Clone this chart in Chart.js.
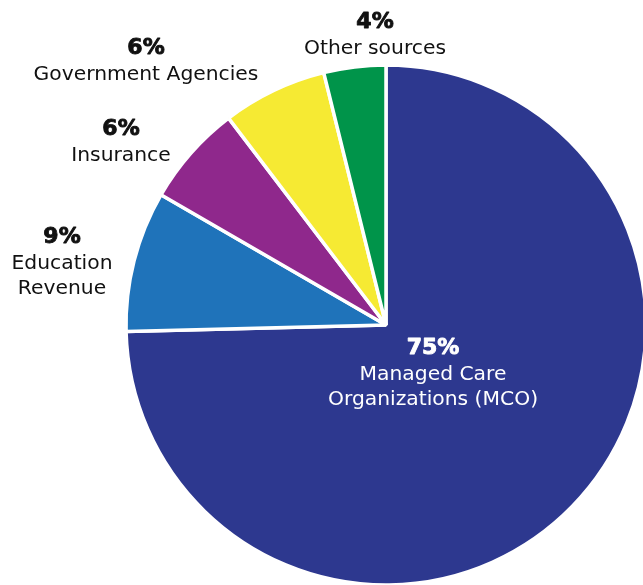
<!DOCTYPE html>
<html>
<head>
<meta charset="utf-8">
<script src="https://cdn.jsdelivr.net/npm/chart.js@4"></script>
<style>
  html, body { margin: 0; padding: 0; background: #fff; }
  #wrap { width: 643px; height: 585px; }
</style>
</head>
<body>
<div id="wrap"><canvas id="chart" width="643" height="585"></canvas></div>
<script>
// slices, clockwise from 12 o'clock
const categories = ['Managed Care Organizations (MCO)', 'Education Revenue', 'Insurance', 'Government Agencies', 'Other sources'];
const shares = [74.6, 8.75, 6.3, 6.5, 3.85];
const pctLabels = ['75%', '9%', '6%', '6%', '4%'];
const nameLines = [
  ['Managed Care', 'Organizations (MCO)'],
  ['Education', 'Revenue'],
  ['Insurance'],
  ['Government Agencies'],
  ['Other sources']
];
const colors = ['#2d388f', '#1f73ba', '#8f288c', '#f6ea33', '#00944a'];

// where each label block sits (center x, baseline of the % line)
const labelAnchors = [
  { x: 433, y: 354, color: '#ffffff' },
  { x: 62, y: 243, color: '#111111' },
  { x: 121, y: 135, color: '#111111' },
  { x: 146, y: 54, color: '#111111' },
  { x: 375, y: 28, color: '#111111' }
];

const labelPlugin = {
  id: 'sliceLabels',
  afterDraw(chart) {
    const ctx = chart.ctx;
    ctx.save();
    ctx.textAlign = 'center';
    ctx.textBaseline = 'alphabetic';
    labelAnchors.forEach((a, i) => {
      ctx.fillStyle = a.color;
      ctx.strokeStyle = a.color;
      ctx.lineWidth = 0.9;
      ctx.lineJoin = 'round';
      ctx.font = 'bold 22px "DejaVu Sans"';
      ctx.fillText(pctLabels[i], a.x, a.y);
      ctx.strokeText(pctLabels[i], a.x, a.y);
      ctx.font = '20.3px "DejaVu Sans"';
      nameLines[i].forEach((line, j) => {
        ctx.fillText(line, a.x, a.y + 26 + j * 25);
      });
    });
    ctx.restore();
  }
};

new Chart(document.getElementById('chart'), {
  type: 'pie',
  data: {
    labels: categories,
    datasets: [{
      data: shares,
      backgroundColor: colors,
      borderColor: '#ffffff',
      borderWidth: 3.5,
      radius: 260
    }]
  },
  options: {
    responsive: false,
    animation: false,
    layout: { padding: { left: 129, top: 65, right: 0, bottom: 0 } },
    plugins: {
      legend: { display: false },
      tooltip: { enabled: false }
    }
  },
  plugins: [labelPlugin]
});
</script>
</body>
</html>
